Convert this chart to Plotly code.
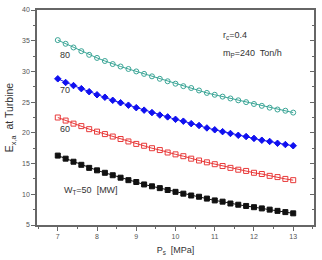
import plotly.graph_objects as go

p_s = [7.0, 7.2, 7.4, 7.6, 7.8, 8.0, 8.2, 8.4, 8.6, 8.8, 9.0, 9.2, 9.4, 9.6, 9.8, 10.0,
       10.2, 10.4, 10.6, 10.8, 11.0, 11.2, 11.4, 11.6, 11.8, 12.0, 12.2, 12.4, 12.6, 12.8, 13.0]

w80 = [35.1, 34.5, 33.9, 33.3, 32.7, 32.2, 31.7, 31.2, 30.8, 30.4, 30.0, 29.6, 29.2, 28.8, 28.4, 28.0,
       27.6, 27.3, 26.9, 26.5, 26.2, 25.9, 25.6, 25.3, 25.0, 24.7, 24.4, 24.1, 23.8, 23.6, 23.3]
w70 = [28.8, 28.2, 27.7, 27.2, 26.7, 26.2, 25.8, 25.3, 24.9, 24.5, 24.1, 23.7, 23.3, 22.9, 22.6, 22.2,
       21.9, 21.5, 21.2, 20.8, 20.5, 20.2, 19.9, 19.6, 19.4, 19.1, 18.8, 18.6, 18.3, 18.1, 17.9]
w60 = [22.5, 22.0, 21.5, 21.1, 20.6, 20.2, 19.8, 19.4, 19.0, 18.6, 18.2, 17.9, 17.5, 17.2, 16.8, 16.5,
       16.2, 15.8, 15.5, 15.2, 14.9, 14.6, 14.3, 14.0, 13.8, 13.5, 13.3, 13.0, 12.8, 12.5, 12.3]
w50 = [16.3, 15.8, 15.3, 14.8, 14.3, 13.9, 13.5, 13.1, 12.7, 12.3, 12.0, 11.6, 11.3, 11.0, 10.7, 10.4,
       10.1, 9.8, 9.6, 9.3, 9.0, 8.8, 8.5, 8.3, 8.1, 7.9, 7.7, 7.5, 7.3, 7.1, 6.9]

x_ticks = [7, 8, 9, 10, 11, 12, 13]
y_ticks = [5, 10, 15, 20, 25, 30, 35, 40]

FONT = "Liberation Sans, Arial, sans-serif"
AX = "#666666"
TXT = "#333333"
TICKTXT = "#555555"

fig = go.Figure()
series = [
    (w80, "80", "#3aa596", "circle-open", 5),
    (w70, "70", "#1010f0", "diamond", 5),
    (w60, "60", "#e83a3a", "square-open", 5),
    (w50, "50", "#111111", "square", 5),
]
for vals, name, col, sym, sz in series:
    fig.add_trace(go.Scatter(
        x=p_s, y=vals, mode="lines+markers", name=name,
        line=dict(color=col, width=1),
        marker=dict(symbol=sym, size=sz, color=col, line=dict(color=col, width=1)),
        showlegend=False))

ann = [
    (7.0, 32.7, "80"),
    (7.0, 26.9, "70"),
    (7.0, 20.7, "60"),
    (7.1, 10.6, "W<sub>T</sub>=50  [MW]"),
    (11.15, 35.8, "r<sub>c</sub>=0.4"),
    (11.15, 33.0, "m<sub>P</sub>=240  Ton/h"),
]
for x, y, t in ann:
    fig.add_annotation(x=x, y=y, text=t, showarrow=False, xanchor="left", yanchor="middle",
                       font=dict(family=FONT, size=9, color=TXT))

fig.update_layout(
    width=322, height=260,
    margin=dict(l=37, r=7, t=6, b=35),
    paper_bgcolor="white", plot_bgcolor="white",
    font=dict(family=FONT, size=7, color=TXT),
    xaxis=dict(range=[6.47, 13.53], tickvals=x_ticks, ticks="outside", ticklen=4, tickwidth=1,
               tickcolor=AX, showline=True, linecolor=AX, linewidth=1.5, mirror=True,
               showgrid=False, zeroline=False, tickfont=dict(size=7, color=TICKTXT),
               minor=dict(dtick=0.5, tick0=6.5, ticks="outside", ticklen=2, tickcolor=AX),
               title=dict(text="P<sub>s</sub>  [MPa]", font=dict(size=9, color=TXT), standoff=8)),
    yaxis=dict(range=[5, 40], tickvals=y_ticks, ticks="outside", ticklen=4, tickwidth=1,
               tickcolor=AX, showline=True, linecolor=AX, linewidth=1.5, mirror=True,
               showgrid=False, zeroline=False, tickfont=dict(size=7, color=TICKTXT),
               minor=dict(dtick=2.5, tick0=5, ticks="outside", ticklen=2, tickcolor=AX),
               title=dict(text="E<sub>x,a</sub>  at Turbine", font=dict(size=10.5, color=TXT), standoff=6)),
    yaxis2=dict(range=[5, 40], overlaying="y", side="right", anchor="x", tickvals=y_ticks,
                ticks="inside", ticklen=4, tickcolor=AX, showticklabels=False, showgrid=False,
                zeroline=False, showline=True, linecolor=AX, linewidth=1.5,
                minor=dict(dtick=2.5, tick0=5, ticks="inside", ticklen=2, tickcolor=AX)),
)
fig.add_trace(go.Scatter(x=[None], y=[None], yaxis="y2", showlegend=False, hoverinfo="skip"))

fig.write_html("out.html")
